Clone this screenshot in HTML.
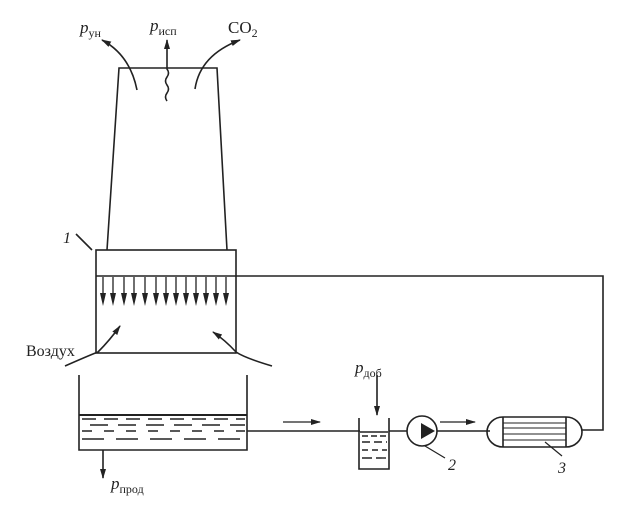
<!DOCTYPE html>
<html><head><meta charset="utf-8"><style>
html,body{margin:0;padding:0;background:#fff;}
svg{display:block;}
text{font-family:"Liberation Serif",serif;fill:#222;}
</style></head><body>
<svg width="623" height="505" viewBox="0 0 623 505" xmlns="http://www.w3.org/2000/svg">
<defs>
<marker id="a" markerWidth="10" markerHeight="8" refX="9" refY="4" orient="auto" markerUnits="userSpaceOnUse">
<path d="M0,1 L10,4 L0,7 Z" fill="#222"/></marker>
</defs>
<g stroke="#222" stroke-width="1.6" fill="none">
<path d="M107,250 L119,68 L217,68 L227,250"/>
<path d="M137,90 Q130,55 102,40" marker-end="url(#a)"/>
<path d="M195,89 Q200,55 240,40" marker-end="url(#a)"/>
<path d="M167,101 q-3,-4 0,-8 q3,-4 0,-8 q-3,-4 0,-8 q3,-4 0,-8 L167,40" marker-end="url(#a)"/>
<rect x="96" y="250" width="140" height="103"/>
<path d="M96,276 L603,276 L603,430 L582,430"/>
<path d="M76,234 L92,250"/>
<path d="M65,366 Q90,355 98,352 Q110,340 120,326" marker-end="url(#a)"/>
<path d="M272,366 Q245,358 236,352 Q225,340 213,332" marker-end="url(#a)"/>
<path d="M79,375 L79,450 L247,450 L247,375"/>
<path d="M79,415 L247,415" stroke-width="2"/>
<path d="M247,431 L360,431"/>
<path d="M283,422 L320,422" marker-end="url(#a)" stroke-width="1.2"/>
<path d="M103,450 L103,478" marker-end="url(#a)"/>
<path d="M359,418 L359,469 L389,469 L389,418"/>
<path d="M377,375 L377,415" marker-end="url(#a)"/>
<path d="M389,431 L407,431"/>
<circle cx="422" cy="431" r="15"/>
<path d="M437,431 L490,431"/>
<path d="M440,422 L475,422" marker-end="url(#a)" stroke-width="1.2"/>
<path d="M425,446 L445,458" stroke-width="1.2"/>
<path d="M503,417 L566,417 A16,15 0 0 1 566,447 L503,447 A16,15 0 0 1 503,417 Z"/>
<path d="M503,417 L503,447 M566,417 L566,447"/>
<path d="M545,442 L562,456" stroke-width="1.2"/>
</g>
<g stroke="#222" stroke-width="1.3">
<path d="M103,277V296M113,277V296M124,277V296M134,277V296M145,277V296M156,277V296M166,277V296M176,277V296M186,277V296M196,277V296M206,277V296M216,277V296M226,277V296"/>
</g>
<g fill="#222">
<path d="M100,293L103,306L106,293Z M110,293L113,306L116,293Z M121,293L124,306L127,293Z M131,293L134,306L137,293Z M142,293L145,306L148,293Z M153,293L156,306L159,293Z M163,293L166,306L169,293Z M173,293L176,306L179,293Z M183,293L186,306L189,293Z M193,293L196,306L199,293Z M203,293L206,306L209,293Z M213,293L216,306L219,293Z M223,293L226,306L229,293Z"/>
</g>
<g stroke="#222" stroke-width="1.4" stroke-dasharray="14,8">
<line x1="82" y1="419" x2="245" y2="419"/>
<line x1="90" y1="425" x2="245" y2="425" stroke-dasharray="18,10"/>
<line x1="82" y1="431" x2="245" y2="431" stroke-dasharray="10,12"/>
<line x1="82" y1="439" x2="240" y2="439" stroke-dasharray="22,12"/>
<line x1="362" y1="436" x2="387" y2="436" stroke-dasharray="6,3"/>
<line x1="362" y1="442" x2="387" y2="442" stroke-dasharray="8,4"/>
<line x1="362" y1="450" x2="387" y2="450" stroke-dasharray="6,4"/>
<line x1="362" y1="458" x2="387" y2="458" stroke-dasharray="10,4"/>
</g>
<path d="M360,432 L388,432" stroke="#222" stroke-width="1.6"/>
<path d="M421,423 L435,431 L421,439 Z" fill="#222"/>
<g stroke="#222" stroke-width="1.1">
<line x1="503" y1="423" x2="566" y2="423"/>
<line x1="503" y1="428" x2="566" y2="428"/>
<line x1="503" y1="434" x2="566" y2="434"/>
<line x1="503" y1="440" x2="566" y2="440"/>
</g>
<text x="80" y="33" font-size="17" font-style="italic">p<tspan font-size="12" font-style="normal" dy="4">ун</tspan></text>
<text x="150" y="31" font-size="17" font-style="italic">p<tspan font-size="12" font-style="normal" dy="4">исп</tspan></text>
<text x="228" y="33" font-size="17">CO<tspan font-size="12" dy="4">2</tspan></text>
<text x="63" y="243" font-size="16" font-style="italic">1</text>
<text x="26" y="356" font-size="16">Воздух</text>
<text x="111" y="489" font-size="17" font-style="italic">p<tspan font-size="12" font-style="normal" dy="4">прод</tspan></text>
<text x="355" y="373" font-size="17" font-style="italic">p<tspan font-size="12" font-style="normal" dy="4">доб</tspan></text>
<text x="448" y="470" font-size="16" font-style="italic">2</text>
<text x="558" y="473" font-size="16" font-style="italic">3</text>
</svg>
</body></html>
